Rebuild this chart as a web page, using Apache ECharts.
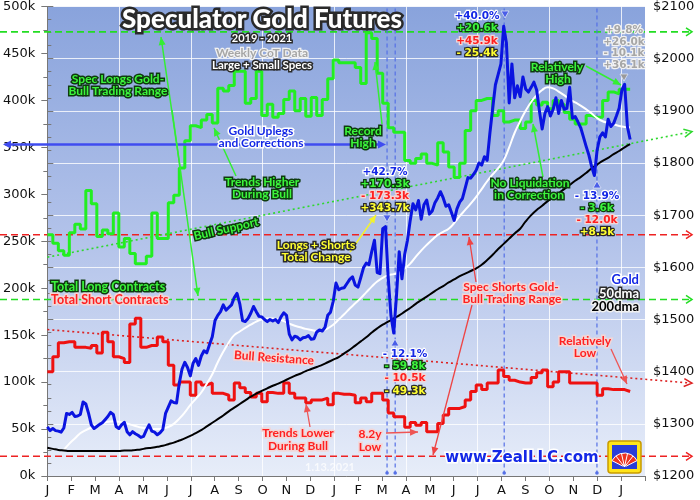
<!DOCTYPE html>
<html><head><meta charset="utf-8">
<script src="https://cdn.jsdelivr.net/npm/echarts@6/dist/echarts.min.js"></script>
<style>html,body{margin:0;padding:0;background:#fff}#c{width:700px;height:500px}</style>
</head><body><div id="c"></div><script>
// ---------------- DATA ----------------
const monthLabels = ['J','F','M','A','M','J','J','A','S','O','N','D','J','F','M','A','M','J','J','A','S','O','N','D','J'];
// weekly CoT (thousands of contracts), week 0 = first week of Jan 2019
const longs = [257,248,240,235,259,268,263,304,290,255,
262,258,280,244,253,237,226,226,234,280,
253,253,291,299,328,357,373,371,379,385,
376,413,410,416,431,431,397,402,431,384,
396,382,386,401,410,389,402,383,403,384,
401,423,443,440,440,440,435,418,472,466,
429,397,371,366,366,336,333,338,343,333,
331,355,345,329,318,333,368,389,400,402,
402,384,389,377,379,379,370,377,400,395,
398,391,400,396,387,380,375,375,384,382,
382,400,409,407,412,412,412];
const shorts = [111,127,142,143,143,137,137,136,139,131,
153,143,127,125,121,162,168,137,139,139,
148,143,118,97,100,100,86,100,97,99,
88,88,86,81,99,94,89,84,88,79,
89,88,88,99,88,83,83,78,81,81,
83,76,88,87,87,86,78,83,79,88,
88,81,67,63,63,52,57,54,57,47,
47,56,65,72,72,74,81,90,97,92,
99,99,113,106,102,100,99,99,105,110,
113,95,100,111,111,99,99,99,99,99,
86,93,92,92,92,90,90];
// gold price, half-week samples
const gold = [1294,1287,1291,1287,1286,1284,1292,1320,1318,1322,
1314,1315,1318,1342,1338,1320,1298,1291,1295,1299,
1302,1308,1314,1322,1318,1295,1291,1298,1303,1285,
1279,1285,1281,1278,1274,1276,1288,1298,1286,1284,
1279,1283,1289,1320,1332,1344,1341,1340,1378,1405,
1418,1408,1392,1416,1425,1412,1430,1440,1436,1452,
1467,1498,1508,1515,1528,1518,1523,1528,1542,1550,
1530,1498,1496,1502,1512,1525,1515,1506,1505,1500,
1496,1500,1497,1500,1494,1505,1513,1508,1472,1461,
1468,1466,1461,1465,1466,1469,1462,1463,1476,1480,
1478,1485,1508,1514,1535,1570,1557,1560,1561,1569,
1577,1582,1566,1562,1580,1599,1608,1605,1630,1652,
1590,1588,1674,1678,1580,1507,1474,1545,1630,1578,
1625,1652,1690,1722,1710,1728,1692,1720,1729,1702,
1708,1724,1733,1745,1733,1717,1720,1705,1690,1712,
1725,1732,1752,1772,1771,1778,1786,1800,1796,1812,
1805,1858,1905,1950,1970,1990,2062,2030,1915,1990,
1925,1948,1927,1965,1942,1936,1945,1955,1940,1900,
1865,1895,1908,1890,1903,1925,1895,1920,1903,1905,
1945,1886,1889,1879,1868,1850,1832,1815,1793,1776,
1825,1850,1858,1850,1884,1870,1876,1890,1905,1940,
1951,1870,1845];
// weekly moving averages
const dma50 = [null,null,null,1250,1262,1272,1282,1288,1293,1297,
1301,1304,1305,1304,1302,1299,1296,1293,1291,1290,
1290,1291,1294,1300,1310,1322,1336,1348,1360,1377,
1395,1418,1438,1456,1470,1477,1484,1490,1496,1500,
1502,1502,1500,1497,1492,1488,1485,1482,1480,1478,
1479,1483,1490,1500,1510,1521,1531,1541,1552,1563,
1573,1580,1585,1587,1590,1598,1607,1620,1632,1643,
1653,1662,1668,1674,1685,1698,1710,1722,1735,1750,
1765,1778,1790,1805,1830,1858,1880,1900,1917,1930,
1940,1945,1943,1937,1930,1922,1916,1910,1903,1895,
1886,1880,1877,1874,1871,1869,1868];
const dma200 = [1254,1252,1250,1249,1248,1248,1248,1248,1248,1248,
1248,1248,1248,1248,1249,1249,1250,1251,1253,1254,
1256,1258,1261,1264,1268,1272,1277,1282,1288,1295,
1302,1309,1316,1324,1331,1338,1345,1352,1358,1363,
1368,1373,1377,1382,1387,1392,1396,1401,1405,1409,
1413,1418,1423,1428,1435,1442,1450,1458,1466,1475,
1483,1490,1496,1502,1508,1515,1522,1530,1537,1544,
1551,1558,1564,1571,1577,1583,1588,1593,1598,1605,
1614,1624,1635,1645,1655,1665,1674,1688,1700,1710,
1718,1727,1734,1742,1750,1758,1766,1773,1781,1790,
1797,1804,1810,1817,1823,1830,1836];
// reference levels (k contracts) and trend lines (k at month 0 and month 25)
const longsRange = [473, 188];
const shortsRange = [257, 21];
const supportLine = [233, 357];
const resistanceLine = [156, 103];
const uplegLevel = 353;
const eventMonths = [14.21, 14.55, 19.11, 22.99];

// ---------------- CHART ----------------
const wk = i => i * 7 / 30.4375;
const hw = j => j * 3.5 / 30.4375;
const pairs = (arr, f) => arr.map((v, i) => [f(i), v]);
const chart = echarts.init(document.getElementById('c'), null, {renderer: 'canvas'});
const axisFont = {color: '#111', fontSize: 13, fontFamily: 'DejaVu Sans'};
const option = {
  animation: false,
  grid: {left: 46, right: 55, top: 6, bottom: 24, show: true, borderWidth: 0,
    backgroundColor: new echarts.graphic.LinearGradient(0, 0, 0, 1, [
      {offset: 0, color: '#89a3dc'}, {offset: 0.5, color: '#b3c3ea'}, {offset: 1, color: '#e7edf9'}])},
  xAxis: [
    {type: 'value', min: 0, max: 25, interval: 1,
     axisLine: {show: true, lineStyle: {color: '#777'}},
     axisTick: {show: true, length: 5, lineStyle: {color: '#777'}},
     axisLabel: Object.assign({margin: 8, formatter: v => monthLabels[Math.round(v)] || ''}, axisFont),
     splitLine: {show: false}},
    {type: 'value', min: 0, max: 25, interval: 3, position: 'bottom',
     axisLine: {show: false}, axisTick: {show: false}, axisLabel: {show: false},
     splitLine: {show: true, lineStyle: {color: 'rgba(255,255,255,0.8)', width: 1}}}
  ],
  yAxis: [
    {type: 'value', min: 0, max: 500, interval: 50, position: 'left',
     axisLine: {show: true, lineStyle: {color: '#777'}},
     axisTick: {show: true, length: 6, lineStyle: {color: '#777'}},
     minorTick: {show: true, splitNumber: 2, length: 4, lineStyle: {color: '#777'}},
     axisLabel: Object.assign({margin: 12, formatter: v => v + 'k'}, axisFont),
     splitLine: {show: false}},
    {type: 'value', min: 1200, max: 2100, interval: 100, position: 'right',
     axisLine: {show: true, lineStyle: {color: '#777'}},
     axisTick: {show: true, length: 6, lineStyle: {color: '#777'}},
     minorTick: {show: true, splitNumber: 4, length: 4, lineStyle: {color: '#777'}},
     axisLabel: Object.assign({margin: 8, formatter: v => '$' + v}, axisFont),
     splitLine: {show: true, lineStyle: {color: 'rgba(255,255,255,0.8)', width: 1}}}
  ],
  series: [
    {type: 'line', step: 'end', data: pairs(shorts, wk), yAxisIndex: 0, symbol: 'none', z: 3,
     lineStyle: {color: '#ee1111', width: 3}},
    {type: 'line', step: 'end', data: pairs(longs, wk), yAxisIndex: 0, symbol: 'none', z: 3,
     lineStyle: {color: '#22ee22', width: 3}},
    {type: 'line', data: pairs(dma50, wk), yAxisIndex: 1, symbol: 'none', smooth: true, z: 4,
     lineStyle: {color: '#ffffff', width: 2}},
    {type: 'line', data: pairs(dma200, wk), yAxisIndex: 1, symbol: 'none', smooth: true, z: 4,
     lineStyle: {color: '#000000', width: 2}},
    {type: 'line', data: pairs(gold, hw), yAxisIndex: 1, symbol: 'none', z: 5,
     lineStyle: {color: '#0a14e0', width: 3, join: 'round'}}
  ]
};
chart.setOption(option);

// ---------------- ANNOTATIONS ----------------
const px = m => chart.convertToPixel({xAxisIndex: 0}, m);
const py = v => chart.convertToPixel({yAxisIndex: 0}, v);
const X0 = px(0), X1 = px(25), YT = py(500), YB = py(0);
const els = [];
function seg(x1, y1, x2, y2, color, w, dash, z) {
  els.push({type: 'line', z: z || 10, silent: true, shape: {x1, y1, x2, y2},
    style: {stroke: color, lineWidth: w, lineDash: dash || null}});
}
function head(x1, y1, x2, y2, color, L, W, z) {
  const a = Math.atan2(y2 - y1, x2 - x1);
  const bx = x2 - L * Math.cos(a), by = y2 - L * Math.sin(a);
  const nx = -Math.sin(a) * W, ny = Math.cos(a) * W;
  els.push({type: 'polygon', z: z || 10, silent: true,
    shape: {points: [[x2, y2], [bx + nx, by + ny], [bx - nx, by - ny]]}, style: {fill: color}});
}
function arrow(x1, y1, x2, y2, color, w, both, z) {
  seg(x1, y1, x2, y2, color, w, null, z);
  head(x1, y1, x2, y2, color, 8, 3.5, z);
  if (both) head(x2, y2, x1, y1, color, 8, 3.5, z);
}
function chevron(x, y, color, z) {
  els.push({type: 'polyline', z: z || 1, silent: true, shape: {points: [[x - 6, y - 4], [x, y], [x - 6, y + 4]]},
    style: {stroke: color, lineWidth: 1.5}});
}
function T(text, x, y, st, size, opt) {
  opt = opt || {};
  els.push({type: 'text', z: opt.z || 30, silent: true, x: x, y: y, rotation: opt.rot || 0,
    style: {text: text, fill: st[0], stroke: st[1], lineWidth: opt.lw || 3,
      font: (opt.weight || 'bold') + ' ' + size + 'px ' + (opt.family || 'Lato'),
      textAlign: opt.align || 'center', textVerticalAlign: 'middle',
      align: opt.align || 'center', verticalAlign: 'middle', opacity: opt.op == null ? 1 : opt.op}});
}
const G = ['#3cf53c', '#0e3a0e'], R = ['#ff2020', '#f3d6d6'], Y = ['#ffff30', '#2a2a2a'],
      B = ['#1428e6', '#ffffff'], W = ['#ffffff', '#2a2a2a'], K = ['#000000', '#f0f0f0'],
      Gr = ['#a6a6a6', '#f2f2f2'];

// range lines
longsRange.forEach(v => { const y = py(v); seg(0, y, 690, y, '#22dd22', 1.6, [7, 4], 1); chevron(692, y, '#22dd22'); });
shortsRange.forEach(v => { const y = py(v); seg(0, y, 690, y, '#ee2222', 1.6, [7, 4], 1); chevron(692, y, '#ee2222'); });
// trend lines extended beyond plot
function trend(vals, color) {
  const y0 = py(vals[0]), y1 = py(vals[1]);
  const k = (y1 - y0) / (X1 - X0);
  const xe = 690, ye = y0 + k * (xe - X0);
  seg(X0, y0, xe, ye, color, 1.6, [2, 3], 1);
  const a = Math.atan2(ye - y0, xe - X0);
  els.push({type: 'polyline', z: 1, silent: true, shape: {points: [
    [xe - 6 * Math.cos(a) + 4 * Math.sin(a), ye - 6 * Math.sin(a) - 4 * Math.cos(a)], [xe + 2, ye + 2 * Math.sin(a)],
    [xe - 6 * Math.cos(a) - 4 * Math.sin(a), ye - 6 * Math.sin(a) + 4 * Math.cos(a)]]},
    style: {stroke: color, lineWidth: 1.5}});
}
trend(supportLine, '#2ed82e');
trend(resistanceLine, '#dd2222');
// event verticals
eventMonths.forEach(m => { const x = px(m); seg(x, YT + 2, x, YB - 2, '#5570e6', 1.2, [4, 3], 1);
  els.push({type: 'circle', z: 1, silent: true, shape: {cx: x, cy: YB - 3, r: 1.8}, style: {fill: '#5570e6'}}); });
// blue upleg arrow
const yu = py(uplegLevel);
seg(6, yu, 378, yu, '#3f4cf0', 2.5, null, 6);
head(378, yu, 3, yu, '#3f4cf0', 8, 4, 6);
head(6, yu, 386, yu, '#3f4cf0', 8, 4, 6);
// markers
function tri(x, y, up, color) {
  const d = up ? -1 : 1;
  els.push({type: 'polygon', z: 25, silent: true, shape: {points: [[x - 4, y - 3 * d], [x + 4, y - 3 * d], [x, y + 4 * d]]},
    style: {fill: color, stroke: '#dde4f6', lineWidth: 0.8}});
}
tri(387, 218, false, '#4a5ee8'); tri(505, 14, false, '#4a5ee8'); tri(395, 343, true, '#4a5ee8');
tri(597, 185, true, '#4a5ee8'); tri(624, 77, false, '#9a9a9a');

// green arrows
arrow(180, 167, 161, 37, '#33ee33', 1.5, false);
arrow(172, 110, 198, 296, '#33ee33', 1.5, false);
arrow(236, 176, 214, 128, '#33ee33', 1.5, false);
arrow(382, 124, 375, 62, '#33ee33', 1.5, false);
arrow(543, 177, 533, 124, '#33ee33', 1.5, false);
arrow(586, 66, 621, 85, '#33ee33', 1.5, false);
// red arrows
arrow(476, 282, 469, 237, '#ee4444', 1.3, false);
arrow(472, 305, 433, 455, '#ee4444', 1.3, false);
arrow(310, 427, 306, 404, '#ee5555', 1.3, false);
arrow(386, 433, 418, 432, '#ee5555', 1.3, false);
arrow(611, 349, 627, 384, '#ee5555', 1.3, false);
// yellow
arrow(350, 252, 376, 215, '#f2f230', 1.5, false);

// texts
T('Speculator Gold Futures', 262, 20, W, 26, {weight: '900', lw: 5});
T('2019 - 2021', 262, 38, W, 11);
T('Weekly CoT Data', 262, 53, Gr, 12, {lw: 2.5});
T('Large + Small Specs', 262, 65, W, 11.5);
T('Spec Longs Gold-', 118, 79, G, 12);
T('Bull Trading Range', 118, 91, G, 12);
T('Gold Uplegs', 261, 131, B, 12);
T('and Corrections', 261, 143, B, 12);
T('Record', 363, 131, G, 12);
T('High', 363, 143, G, 12);
T('Trends Higher', 262, 182, G, 12);
T('During Bull', 262, 194, G, 12);
T('Bull Support', 226, 229, G, 12, {rot: 13 * Math.PI / 180});
T('Longs + Shorts', 316, 245, Y, 12);
T('Total Change', 316, 257, Y, 12);
T('Total Long Contracts', 51, 287, G, 12.5, {align: 'left'});
T('Total Short Contracts', 51, 300, R, 12.5, {align: 'left'});
T('Spec Shorts Gold-', 511, 287, R, 12);
T('Bull Trading Range', 512, 299, R, 12);
T('No Liquidation', 530, 183, G, 12);
T('in Correction', 529, 195, G, 12);
T('Relatively', 557, 67, G, 12);
T('High', 558, 79, G, 12);
T('Bull Resistance', 274, 358, R, 12, {rot: -4 * Math.PI / 180});
T('Trends Lower', 298, 433, R, 12);
T('During Bull', 298, 446, R, 12);
T('8.2y', 370, 434, R, 12);
T('Low', 370, 447, R, 12);
T('Relatively', 585, 341, R, 12);
T('Low', 585, 353, R, 12);
T('Gold', 639, 280, B, 13, {align: 'right'});
T('50dma', 639, 294, W, 13, {align: 'right'});
T('200dma', 639, 307, K, 13, {align: 'right'});
T('www.ZealLLC.com', 522, 458, B, 15, {family: "'DejaVu Sans'", lw: 3});
T('1.13.2021', 330, 467, ['#ffffff', null], 11, {lw: 0, op: 0.75});
// stats
const S = "'DejaVu Sans'";
[['+42.7%', B], ['+170.3k', G], ['- 173.3k', R], ['+343.7k', Y]].forEach((s, i) => T(s[0], 385, 172 + 12 * i, s[1], 10.5, {family: S, lw: 2.5}));
[['- 12.1%', B], ['- 59.8k', G], ['- 10.5k', R], ['- 49.3k', Y]].forEach((s, i) => T(s[0], 405, 354 + 12.3 * i, s[1], 10.5, {family: S, lw: 2.5}));
[['+40.0%', B], ['+20.6k', G], ['+45.9k', R], ['- 25.4k', Y]].forEach((s, i) => T(s[0], 477, 16 + 12.5 * i, s[1], 10.5, {family: S, lw: 2.5}));
[['- 13.9%', B], ['- 3.6k', G], ['- 12.0k', R], ['+8.5k', Y]].forEach((s, i) => T(s[0], 597, 196 + 12 * i, s[1], 10.5, {family: S, lw: 2.5}));
[['+9.8%', Gr], ['+26.0k', Gr], ['- 10.1k', Gr], ['+36.1k', Gr]].forEach((s, i) => T(s[0], 624, 30 + 11.8 * i, s[1], 10.5, {family: S, lw: 2.5}));
// logo
els.push({type: 'rect', z: 30, silent: true, shape: {x: 608, y: 441, width: 33, height: 32, r: 3},
  style: {fill: '#ffe41a', stroke: '#c89a00', lineWidth: 1.5}});
els.push({type: 'rect', z: 31, silent: true, shape: {x: 612, y: 445, width: 25, height: 24}, style: {fill: '#2a3ed8'}});
els.push({type: 'sector', z: 32, silent: true, shape: {cx: 624.5, cy: 467, r: 14, r0: 2, startAngle: -Math.PI * 0.85, endAngle: -Math.PI * 0.15},
  style: {fill: '#ee3322', stroke: '#ffffff', lineWidth: 1}});
for (let k = 1; k < 5; k++) {
  const a = -Math.PI * (0.85 - 0.14 * k);
  els.push({type: 'line', z: 33, silent: true, shape: {x1: 624.5, y1: 467, x2: 624.5 + 14 * Math.cos(a), y2: 467 + 14 * Math.sin(a)},
    style: {stroke: '#ffffff', lineWidth: 1}});
}
chart.setOption({graphic: {elements: els}});
</script></body></html>
